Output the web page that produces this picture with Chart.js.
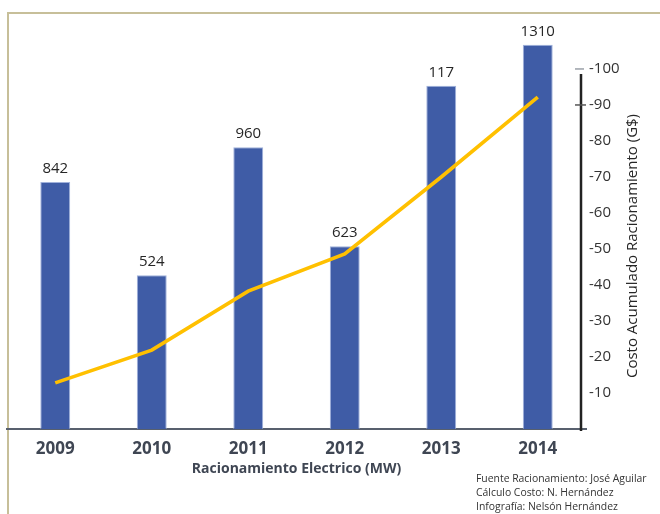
<!DOCTYPE html>
<html><head><meta charset="utf-8">
<script src="https://cdn.jsdelivr.net/npm/chart.js@4"></script>
<style>html,body{margin:0;padding:0;background:#fff}#wrap{width:660px;height:514px;position:relative}</style>
</head><body><div id="wrap"><canvas id="c" width="660" height="514"></canvas></div>
<script>
// ---- data ----
const years = ['2009', '2010', '2011', '2012', '2013', '2014'];
const racionamientoMW = [842, 524, 960, 623, 1170, 1310];
const barLabels = ['842', '524', '960', '623', '117', '1310'];
const costoAcumulado = [12.8, 21.9, 38.3, 48.6, 70.0, 92.2];
const costTicks = [10, 20, 30, 40, 50, 60, 70, 80, 90, 100];
const xTitle = 'Racionamiento Electrico (MW)';
const y2Title = 'Costo Acumulado Racionamiento (G$)';
const footLines = ['Fuente Racionamiento: José Aguilar', 'Cálculo Costo: N. Hernández', 'Infografía: Nelsón Hernández'];

const FONT = "'Open Sans', sans-serif";
Chart.defaults.font.family = FONT;

const deco = {
  id: 'deco',
  beforeDraw(chart) {
    const ctx = chart.ctx;
    ctx.save();
    ctx.fillStyle = '#fff';
    ctx.fillRect(0, 0, chart.width, chart.height);
    ctx.strokeStyle = '#c7bf99';
    ctx.lineWidth = 2;
    ctx.beginPath();
    ctx.moveTo(8, 514); ctx.lineTo(8, 13); ctx.lineTo(660, 13);
    ctx.stroke();
    ctx.restore();
  },
  afterDatasetsDraw(chart) {
    const ctx = chart.ctx;
    const meta = chart.getDatasetMeta(1);
    ctx.save();
    ctx.font = '15px ' + FONT;
    ctx.fillStyle = '#262626';
    ctx.textAlign = 'center';
    ctx.textBaseline = 'alphabetic';
    meta.data.forEach((bar, i) => {
      ctx.fillText(barLabels[i], bar.x, bar.y - 9);
    });
    ctx.restore();
  },
  afterDraw(chart) {
    const ctx = chart.ctx;
    const y2 = chart.scales.y2;
    const area = chart.chartArea;
    ctx.save();
    // right axis line
    ctx.strokeStyle = '#222';
    ctx.lineWidth = 2.5;
    ctx.beginPath();
    ctx.moveTo(581, y2.getPixelForValue(98.6));
    ctx.lineTo(581, area.bottom + 2);
    ctx.stroke();
    // small tick marks
    ctx.lineWidth = 1.5;
    ctx.strokeStyle = '#9aa0a8';
    ctx.beginPath();
    let p = y2.getPixelForValue(100);
    ctx.moveTo(575, p); ctx.lineTo(584, p);
    ctx.stroke();
    ctx.strokeStyle = '#555';
    ctx.beginPath();
    p = y2.getPixelForValue(90);
    ctx.moveTo(575, p); ctx.lineTo(586, p);
    ctx.stroke();
    // x title
    ctx.fillStyle = '#3f4653';
    ctx.font = 'bold 14px ' + FONT;
    ctx.textAlign = 'center';
    ctx.textBaseline = 'alphabetic';
    ctx.fillText(xTitle, (area.left + area.right) / 2, 473);
    // right title
    ctx.save();
    ctx.translate(633, 246);
    ctx.rotate(-Math.PI / 2);
    ctx.font = '15px ' + FONT;
    ctx.fillStyle = '#262626';
    ctx.textAlign = 'center';
    ctx.textBaseline = 'middle';
    ctx.fillText(y2Title, 0, 0);
    ctx.restore();
    // footnote
    ctx.font = '10.4px ' + FONT;
    ctx.fillStyle = '#333';
    ctx.textAlign = 'left';
    ctx.textBaseline = 'middle';
    footLines.forEach((t, i) => ctx.fillText(t, 476, 479 + i * 14));
    ctx.restore();
  }
};

new Chart(document.getElementById('c'), {
  type: 'bar',
  data: {
    labels: years,
    datasets: [
      {
        type: 'line', data: costoAcumulado, yAxisID: 'y2',
        borderColor: '#FFC000', borderWidth: 3.6, pointRadius: 0,
        tension: 0, fill: false, order: 0
      },
      {
        type: 'bar', data: racionamientoMW, yAxisID: 'y',
        backgroundColor: '#3f5ca6', borderColor: 'rgba(150,168,215,0.9)', borderWidth: 1,
        barPercentage: 0.31, categoryPercentage: 1, order: 1
      }
    ]
  },
  options: {
    responsive: false,
    animation: false,
    layout: { padding: { left: 7, top: 20, right: 0, bottom: 0 } },
    plugins: { legend: { display: false }, tooltip: { enabled: false } },
    scales: {
      x: {
        grid: { display: false, drawTicks: false },
        border: { display: true, color: '#58606e', width: 2 },
        ticks: { font: { size: 17, weight: 'bold' }, color: '#3f4653', padding: 10 },
        afterFit(s) { s.height = 85; }
      },
      y: { display: false, min: 0, max: 1394 },
      y2: {
        position: 'right', min: 0, max: 113.6,
        grid: { display: false, drawTicks: false },
        border: { display: false },
        ticks: { font: { size: 15 }, color: '#333', padding: 3, callback: v => '-' + v },
        afterBuildTicks(s) { s.ticks = costTicks.map(v => ({ value: v })); },
        afterFit(s) { s.width = 74; }
      }
    }
  },
  plugins: [deco]
});
</script>
</body></html>
